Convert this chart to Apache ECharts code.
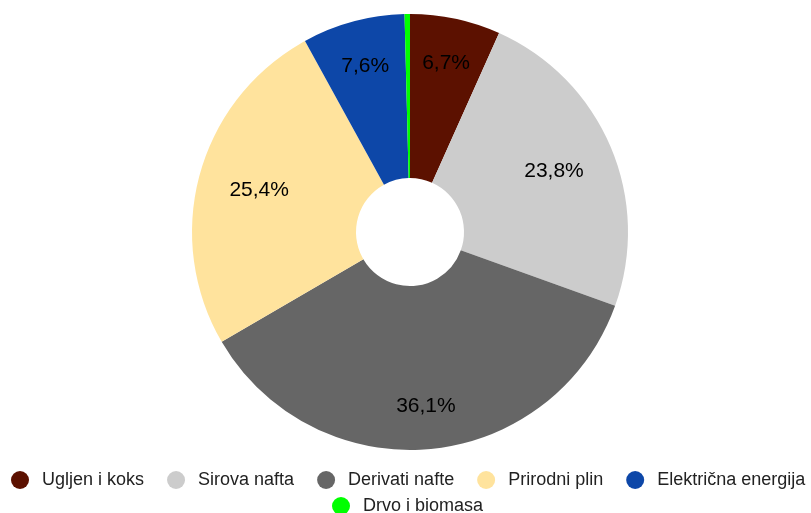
<!DOCTYPE html>
<html>
<head>
<meta charset="utf-8">
<script src="https://cdn.jsdelivr.net/npm/echarts@6/dist/echarts.min.js"></script>
<style>html,body{margin:0;padding:0;background:#fff;}#c{width:811px;height:513px;}</style>
</head>
<body>
<div id="c"></div>
<script>
const categories = ['Ugljen i koks', 'Sirova nafta', 'Derivati nafte', 'Prirodni plin', 'Električna energija', 'Drvo i biomasa'];
const shares = [6.7, 23.8, 36.1, 25.4, 7.6, 0.4];
const colors = ['#5c1100', '#cccccc', '#666666', '#ffe39d', '#0d47a8', '#00ff00'];
const showLabel = [true, true, true, true, true, false];

const CX = 410, CY = 232, R_IN = 54, R_OUT = 218, LABEL_EDGE = 188;
const total = shares.reduce((a, b) => a + b, 0);
const midAngles = [];
let acc = 0;
shares.forEach(v => { midAngles.push((acc + v / 2) / total * 2 * Math.PI); acc += v; });

const font = 'Liberation Sans, Arial, sans-serif';
const chart = echarts.init(document.getElementById('c'));
const legendBase = {
  orient: 'horizontal', icon: 'circle',
  itemWidth: 34, itemHeight: 18, itemGap: 23,
  textStyle: { fontSize: 18, color: '#222', fontFamily: font },
  selectedMode: false
};
chart.setOption({
  animation: false,
  color: colors,
  legend: [
    Object.assign({}, legendBase, { top: 466, left: 6, data: categories.slice(0, 5) }),
    Object.assign({}, legendBase, { top: 492, left: 327, data: categories.slice(5) })
  ],
  series: [{
    type: 'pie',
    center: [CX, CY],
    radius: [R_IN, R_OUT],
    startAngle: 90,
    clockwise: true,
    avoidLabelOverlap: false,
    emphasis: { disabled: true },
    data: categories.map((n, i) => ({
      name: n, value: shares[i],
      itemStyle: { color: colors[i] },
      label: { show: showLabel[i] }
    })),
    label: {
      position: 'inside',
      fontSize: 21,
      color: '#000',
      fontFamily: font,
      formatter: p => p.value.toFixed(1).replace('.', ',') + '%'
    },
    labelLine: { show: false },
    labelLayout: function (p) {
      const t = midAngles[p.dataIndex];
      const s = Math.sin(t), c = Math.cos(t);
      const hw = p.labelRect.width / 2, hh = 10.5;
      const r = LABEL_EDGE - (hw * Math.abs(s) + hh * Math.abs(c));
      return { x: CX + r * s, y: CY - r * c, align: 'center', verticalAlign: 'middle' };
    }
  }]
});
</script>
</body>
</html>
